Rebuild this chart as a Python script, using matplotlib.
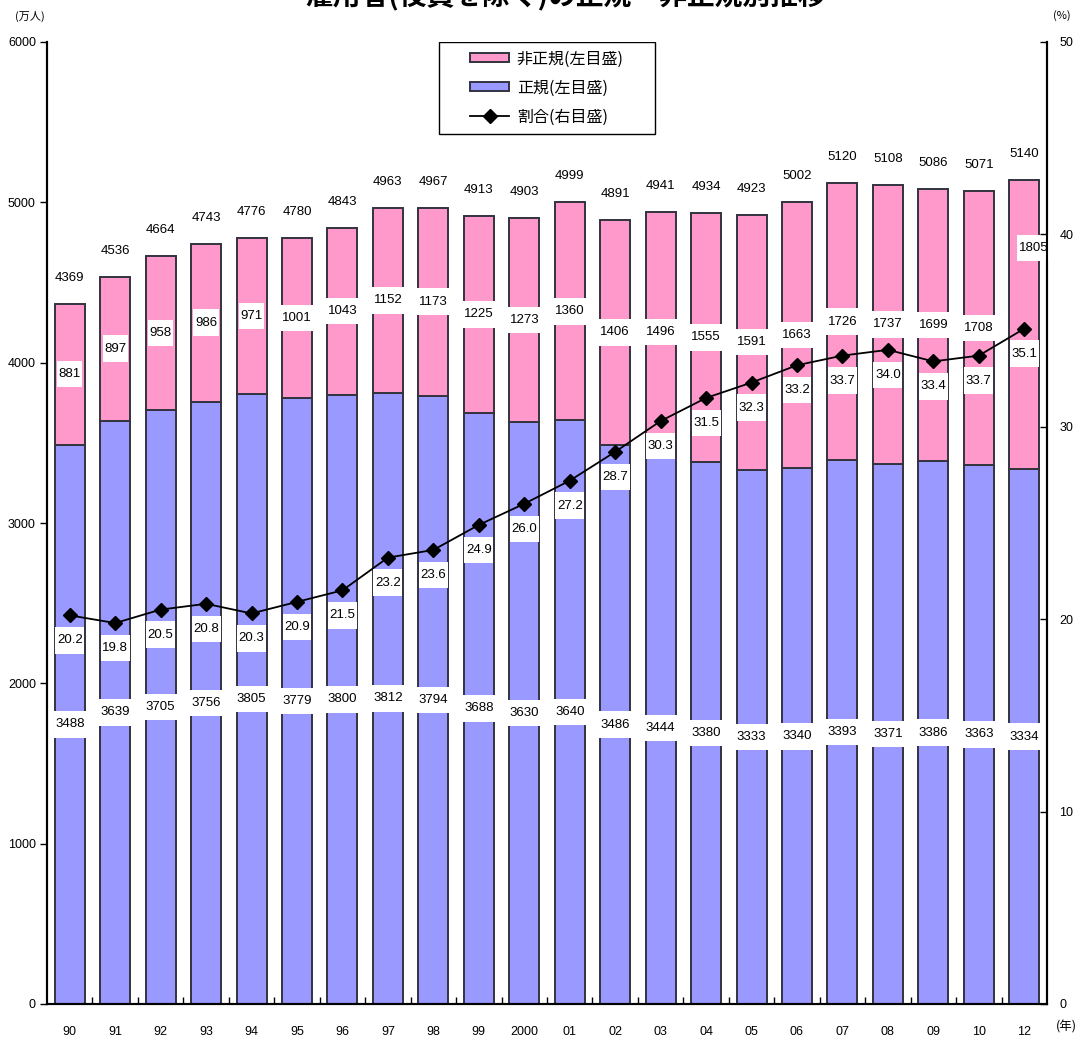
import matplotlib
matplotlib.use('Agg')
import matplotlib.pyplot as plt
from matplotlib import font_manager
from matplotlib.path import Path
from matplotlib.patches import Rectangle

# フォント
try:
    font_manager.findfont('Liberation Sans Narrow', fallback_to_default=False)
    num_font = ['Liberation Sans Narrow', 'Noto Sans CJK JP']
except Exception:
    num_font = ['Liberation Sans', 'Noto Sans CJK JP']
jp_font = ['Noto Sans CJK JP', 'DejaVu Sans']
plt.rcParams['font.family'] = num_font

# データ
years = ['90', '91', '92', '93', '94', '95', '96', '97', '98', '99', '2000',
         '01', '02', '03', '04', '05', '06', '07', '08', '09', '10', '12']
regular = [3488, 3639, 3705, 3756, 3805, 3779, 3800, 3812, 3794, 3688, 3630,
           3640, 3486, 3444, 3380, 3333, 3340, 3393, 3371, 3386, 3363, 3334]
nonregular = [881, 897, 958, 986, 971, 1001, 1043, 1152, 1173, 1225, 1273,
              1360, 1406, 1496, 1555, 1591, 1663, 1726, 1737, 1699, 1708, 1805]
total = [4369, 4536, 4664, 4743, 4776, 4780, 4843, 4963, 4967, 4913, 4903,
         4999, 4891, 4941, 4934, 4923, 5002, 5120, 5108, 5086, 5071, 5140]
ratio = [20.2, 19.8, 20.5, 20.8, 20.3, 20.9, 21.5, 23.2, 23.6, 24.9, 26.0,
         27.2, 28.7, 30.3, 31.5, 32.3, 33.2, 33.7, 34.0, 33.4, 33.7, 35.1]

pink = '#FF99CC'
blue = '#9999FF'
edge = '#333340'


def tall_box(x0, y0, width, height, mutation_size):
    px = 0.12 * mutation_size
    py = 0.55 * mutation_size
    return Path([(x0 - px, y0 - py), (x0 + width + px, y0 - py),
                 (x0 + width + px, y0 + height + py), (x0 - px, y0 + height + py),
                 (x0 - px, y0 - py)], closed=True)


box = dict(boxstyle=tall_box, facecolor='white', edgecolor='none')

fig = plt.figure(figsize=(10.77, 10.38), dpi=100)
ax = fig.add_axes([47 / 1077, 1 - 1004 / 1038, 1000 / 1077, 962 / 1038])
ax2 = ax.twinx()
ax.set_zorder(1)
ax2.set_zorder(2)
ax2.patch.set_visible(False)

x = list(range(len(years)))
w = 0.66
ax.bar(x, regular, w, color=blue, edgecolor=edge, linewidth=1.4, label='正規(左目盛)')
ax.bar(x, nonregular, w, bottom=regular, color=pink, edgecolor=edge, linewidth=1.4,
       label='非正規(左目盛)')

fs = 9.5
for i in x:
    ax.text(i, regular[i] / 2, str(regular[i]), ha='center', va='center',
            fontsize=fs, bbox=box, zorder=5)
    mid = regular[i] + nonregular[i] / 2
    dx = 0
    if i == len(years) - 1:
        mid += 480
        dx = 0.2
    ax.text(i + dx, mid, str(nonregular[i]), ha='center', va='center',
            fontsize=fs, bbox=box, zorder=5)
    ax.annotate(str(total[i]), (i, total[i]), xytext=(0, 26),
                textcoords='offset pixels', ha='center', va='center', fontsize=fs)

line, = ax2.plot(x, ratio, color='black', linewidth=1.3, marker='D', markersize=7,
                 label='割合(右目盛)')
for i in x:
    ax2.annotate('%.1f' % ratio[i], (i, ratio[i]), xytext=(0, -25),
                 textcoords='offset pixels', ha='center', va='center',
                 fontsize=fs, bbox=box)

ax.set_xlim(-0.5, len(years) - 0.5)
ax.set_ylim(0, 6000)
ax2.set_ylim(0, 50)
ax.set_yticks(range(0, 6001, 1000))
ax2.set_yticks(range(0, 51, 10))

ax.set_xticks(x)
ax.set_xticklabels(years)
ax.set_xticks([i + 0.5 for i in x[:-1]], minor=True)
ax.tick_params(axis='x', which='major', length=0, pad=16, labelsize=9)
ax.tick_params(axis='x', which='minor', direction='in', length=5, width=1)
ax.tick_params(axis='y', direction='out', length=5, width=1, pad=3, labelsize=9)
ax2.tick_params(axis='y', direction='in', length=5, width=1, pad=9, labelsize=9)

for a in (ax, ax2):
    a.spines['top'].set_visible(False)
    for s in ('left', 'right', 'bottom'):
        a.spines[s].set_linewidth(1.5)

# 凡例
handles = [ax.containers[1], ax.containers[0], line]
labels = ['非正規(左目盛)', '正規(左目盛)', '割合(右目盛)']
leg = ax2.legend(handles, labels, loc='center', bbox_to_anchor=(0.5, (1004 - 88) / 962),
                 frameon=False, prop={'family': jp_font, 'size': 11.5},
                 handlelength=2.4, handleheight=0.5, labelspacing=0.75,
                 borderpad=0.3, handletextpad=0.5)
ax2.add_patch(Rectangle((392 / 1000, 870 / 962), 216 / 1000, 92 / 962,
                        transform=ax2.transAxes, facecolor='white',
                        edgecolor='black', linewidth=1.0, zorder=4))
leg.set_zorder(6)

fig.text(0.525, 1.0 + 3 / 1038, '雇用者(役員を除く)の正規・非正規別推移', ha='center',
         va='center', fontsize=20, fontweight='bold', family=jp_font)
fig.text(30 / 1077, 1 - 16 / 1038, '(万人)', ha='center', va='center', fontsize=8,
         family=jp_font)
fig.text(1062 / 1077, 1 - 16 / 1038, '(%)', ha='center', va='center', fontsize=8,
         family=jp_font)
fig.text(1066 / 1077, 1 - 1027 / 1038, '(年)', ha='center', va='center', fontsize=9,
         family=jp_font)

fig.savefig('out.png', dpi=100)
